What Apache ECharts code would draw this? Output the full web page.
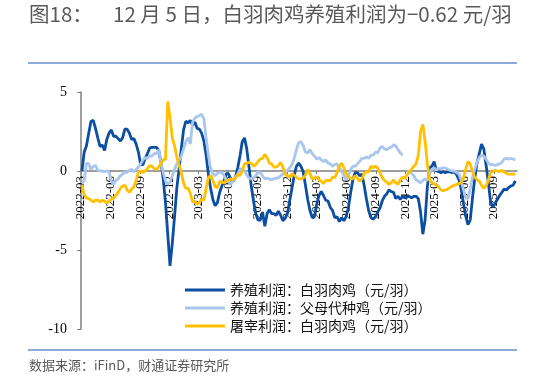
<!DOCTYPE html>
<html><head><meta charset="utf-8">
<script src="https://cdn.jsdelivr.net/npm/echarts@6/dist/echarts.min.js"></script>
<style>html,body{margin:0;padding:0;background:#fff}#c{width:533px;height:380px}</style>
</head><body><div id="c"></div>
<script>
// weekly observations starting 2022-03-04
const firstWeek = [2022, 2, 4];
const tickLabels = ['2022-03','2022-06','2022-09','2022-12','2023-03','2023-06','2023-09','2023-12',
  '2024-03','2024-06','2024-09','2024-12','2025-03','2025-06','2025-09'];
const seriesNames = ['养殖利润：白羽肉鸡（元/羽）','养殖利润：父母代种鸡（元/羽）','屠宰利润：白羽肉鸡（元/羽）'];
const broilerProfit = [
 0.0,1.2,1.6,2.4,3.15,3.2,2.7,2.1,1.55,1.65,
 1.3,2.0,2.4,2.6,2.2,2.2,2.05,1.9,2.1,2.65,
 2.65,2.4,2.0,2.05,1.7,1.2,0.4,0.4,0.8,1.1,
 1.45,1.5,1.5,1.5,1.3,0.55,-0.5,-2.0,-4.0,-6.0,
 -4.6,-2.9,-1.1,0.1,1.4,2.6,3.15,3.05,3.2,2.9,
 3.1,2.7,2.65,2.4,1.9,1.0,-0.2,-1.1,-1.8,-2.2,
 -2.0,-1.35,-0.95,-0.6,-0.15,-0.2,-0.55,-0.65,-0.4,0.2,
 0.95,1.85,2.1,1.4,0.25,-0.95,-1.9,-2.7,-3.1,-3.1,
 -2.6,-3.5,-2.7,-2.45,-2.7,-2.7,-2.8,-2.55,-2.8,-3.15,
 -3.0,-2.7,-1.9,-1.1,-0.3,0.3,0.5,0.3,-0.05,-0.9,
 -1.8,-2.5,-2.95,-2.9,-2.1,-1.55,-1.3,-1.55,-1.85,-1.9,
 -2.3,-2.5,-2.95,-2.9,-3.2,-2.95,-3.15,-2.9,-2.35,-1.4,
 -0.55,-0.1,-0.1,-0.3,-0.2,-0.9,-1.75,-2.5,-2.95,-3.05,
 -2.9,-2.6,-2.35,-1.9,-1.6,-1.45,-1.2,-1.3,-1.35,-1.75,
 -1.6,-1.8,-1.6,-1.7,-1.65,-1.6,-1.7,-1.6,-1.6,-1.75,
 -2.6,-4.0,-3.1,-1.0,0.2,0.3,0.6,0.0,-0.05,-0.1,
 -0.05,-0.1,-0.05,-0.05,-0.1,-0.05,-0.25,-0.55,-1.15,-2.05,
 -2.85,-3.4,-3.1,-1.7,-0.45,0.5,1.1,1.7,1.4,0.4,
 -0.7,-1.95,-2.3,-2.05,-1.8,-1.55,-1.35,-1.15,-1.2,-1.05,
 -0.95,-0.9,-0.62];
const parentProfit = [
 -0.8,-0.6,0.5,0.45,0.1,0.3,0.35,0.05,0.0,0.0,
 -0.05,0.0,-0.05,-0.65,-0.85,-0.6,-0.5,-0.3,-0.2,-0.05,
 -0.1,0.05,0.1,-0.05,0.1,0.25,0.45,0.7,0.85,0.8,
 0.95,0.95,1.1,1.1,1.35,0.5,-0.1,-0.65,-0.85,-0.7,
 -0.3,0.1,0.45,0.65,0.95,1.4,1.85,2.1,1.7,3.1,
 3.35,3.45,3.5,3.6,3.3,2.1,1.0,0.15,-0.15,-0.3,
 -0.15,-0.1,-0.1,-0.3,-0.65,-0.7,-0.85,-0.6,-0.4,-0.2,
 0.1,0.15,0.0,-0.25,-0.45,-0.5,-0.45,-0.3,-0.05,-0.1,
 -0.3,-0.5,-0.45,-0.5,-0.55,-0.5,-0.45,-0.45,-0.3,-0.2,
 -0.1,0.05,0.2,0.4,0.8,1.35,1.8,1.85,1.6,1.2,
 1.15,1.35,1.1,0.95,0.75,0.85,0.7,0.6,0.7,0.5,
 0.45,0.3,0.4,0.45,0.2,0.0,-0.3,-0.55,-0.3,0.1,
 0.3,0.3,0.45,0.6,0.8,0.8,0.9,0.8,1.0,1.0,
 1.2,1.15,1.45,1.55,1.4,1.35,1.45,1.5,1.65,1.6,
 1.35,1.15,1.0,null,-0.1,0.0,-0.15,-0.3,-0.55,-0.65,
 -0.75,-0.6,-0.5,-0.6,-0.2,0.1,0.2,0.05,0.15,0.15,
 0.2,0.2,0.1,0.05,0.0,0.0,-0.1,-0.2,-0.6,-1.2,
 -1.7,-1.75,-1.1,-0.4,0.1,0.55,0.85,1.0,0.95,0.75,
 0.5,0.4,0.4,0.35,0.4,0.45,0.55,0.75,0.8,0.75,
 0.8,0.75,0.7];
const slaughterProfit = [
 -0.9,-1.5,-1.7,-1.75,-1.85,-1.95,-1.85,-1.85,-1.95,-1.85,
 -1.9,-2.05,-1.9,-1.8,-1.7,-1.55,-1.35,-1.1,-0.95,-0.9,
 -1.2,-1.35,-1.15,-1.0,-0.6,-0.05,0.0,-0.1,0.0,0.15,
 0.35,0.3,0.15,0.1,0.25,0.5,0.7,0.75,4.4,3.4,
 2.1,1.6,0.9,0.4,-0.1,-0.75,-1.1,-1.1,-1.4,-1.95,
 -1.9,-2.1,-2.0,-1.8,-1.85,-1.1,-0.45,-0.25,-0.6,-1.0,
 -1.05,-0.65,-0.7,-0.75,-0.6,-0.6,-0.5,-0.55,-0.45,-0.2,
 -0.3,0.0,0.45,0.5,0.55,0.5,0.3,0.4,0.6,0.75,
 0.8,1.05,0.85,0.5,0.45,0.25,0.25,0.35,0.55,0.25,
 -0.2,-0.3,-0.4,-0.2,-0.25,-0.4,-0.5,-0.5,-0.45,-0.25,
 0.1,-0.15,-0.5,-0.45,-0.35,-0.55,-0.65,-0.8,-0.6,-0.6,
 -0.6,-0.4,-0.4,-0.1,0.3,0.5,0.2,-0.2,-0.35,-0.45,
 -0.5,-0.3,-0.45,-0.65,-0.5,-0.15,-0.05,-0.05,0.3,0.2,
 0.3,0.2,-0.1,-0.4,-0.6,-0.7,-0.85,-0.75,-0.55,-0.75,
 -0.85,-0.55,-0.4,-0.45,-0.25,-0.05,0.1,0.3,0.45,1.0,
 2.5,2.95,1.9,0.45,-0.55,-0.75,-0.8,-0.9,-1.0,-1.2,
 -1.25,-1.2,-1.15,-1.05,-0.95,-0.9,-0.85,-0.8,-0.75,-0.45,
 0.1,0.6,0.45,-0.05,-0.4,-0.55,-0.65,-0.9,-1.1,-0.95,
 -0.6,-0.1,-0.05,0.05,0.0,-0.05,0.05,-0.05,-0.15,-0.2,
 -0.2,-0.2,-0.2];

const dates = broilerProfit.map((_, i) => new Date(firstWeek[0], firstWeek[1], firstWeek[2] + 7 * i).getTime());
const pair = arr => arr.map((v, i) => [dates[i], v]);
const tickTimes = tickLabels.map(s => { const p = s.split('-'); return new Date(+p[0], +p[1] - 1, 1).getTime(); });
const pad = n => (n < 10 ? '0' : '') + n;

const chart = echarts.init(document.getElementById('c'), null, {renderer: 'canvas'});
const lineColor = '#8eaadb';
const titleFont = {fontFamily: 'Noto Sans CJK SC', fontSize: 20.5, fill: '#595959'};
chart.setOption({
  animation: false,
  backgroundColor: '#fff',
  grid: {left: 81, right: 16, top: 92, bottom: 51, containLabel: false},
  xAxis: {
    type: 'value',
    min: new Date(2022, 2, 1).getTime(),
    max: new Date(2025, 10, 12).getTime(),
    offset: -158,
    axisLine: {onZero: false, lineStyle: {color: '#7f7f7f', width: 1.5}},
    axisTick: {show: true, customValues: tickTimes, length: 3, lineStyle: {color: '#7f7f7f'}},
    axisLabel: {
      customValues: tickTimes, rotate: 90, margin: 5,
      fontFamily: 'Liberation Serif', fontSize: 13, color: '#000',
      hideOverlap: false, showMinLabel: true, showMaxLabel: true,
      formatter: v => { const d = new Date(v); return d.getFullYear() + '-' + pad(d.getMonth() + 1); }
    },
    splitLine: {show: false}
  },
  yAxis: {
    type: 'value', min: -10, max: 5, interval: 5,
    axisLine: {show: true, lineStyle: {color: '#7f7f7f', width: 1.5}},
    axisTick: {show: true, length: 4, lineStyle: {color: '#7f7f7f'}},
    axisLabel: {fontFamily: 'Liberation Serif', fontSize: 14, color: '#000', margin: 14},
    splitLine: {show: false}
  },
  legend: {
    orient: 'vertical', left: 180, top: 278, itemWidth: 40, itemHeight: 3, itemGap: 4,
    icon: 'rect',
    textStyle: {fontFamily: 'Noto Sans CJK SC', fontSize: 14, color: '#111', lineHeight: 14},
    data: seriesNames
  },
  series: [
    {name: seriesNames[0], type: 'line', data: pair(broilerProfit), symbol: 'none', lineStyle: {color: '#0b4ea2', width: 2.8}, itemStyle: {color: '#0b4ea2'}},
    {name: seriesNames[1], type: 'line', data: pair(parentProfit), symbol: 'none', connectNulls: false, lineStyle: {color: '#a9c6ee', width: 2.8}, itemStyle: {color: '#a9c6ee'}},
    {name: seriesNames[2], type: 'line', data: pair(slaughterProfit), symbol: 'none', lineStyle: {color: '#ffc000', width: 2.8}, itemStyle: {color: '#ffc000'}}
  ],
  graphic: [
    {type: 'text', left: 29, top: 4, style: Object.assign({text: '图18：'}, titleFont)},
    {type: 'text', left: 113, top: 4, style: Object.assign({text: '12 月 5 日，白羽肉鸡养殖利润为−0.62 元/羽'}, titleFont)},
    {type: 'rect', shape: {x: 28, y: 62, width: 489, height: 2}, style: {fill: lineColor}},
    {type: 'rect', shape: {x: 28, y: 349, width: 489, height: 2}, style: {fill: lineColor}},
    {type: 'text', left: 29, top: 359, style: {text: '数据来源：iFinD，财通证券研究所', fontFamily: 'Noto Sans CJK SC', fontSize: 13, fill: '#595959'}}
  ]
});
</script></body></html>
